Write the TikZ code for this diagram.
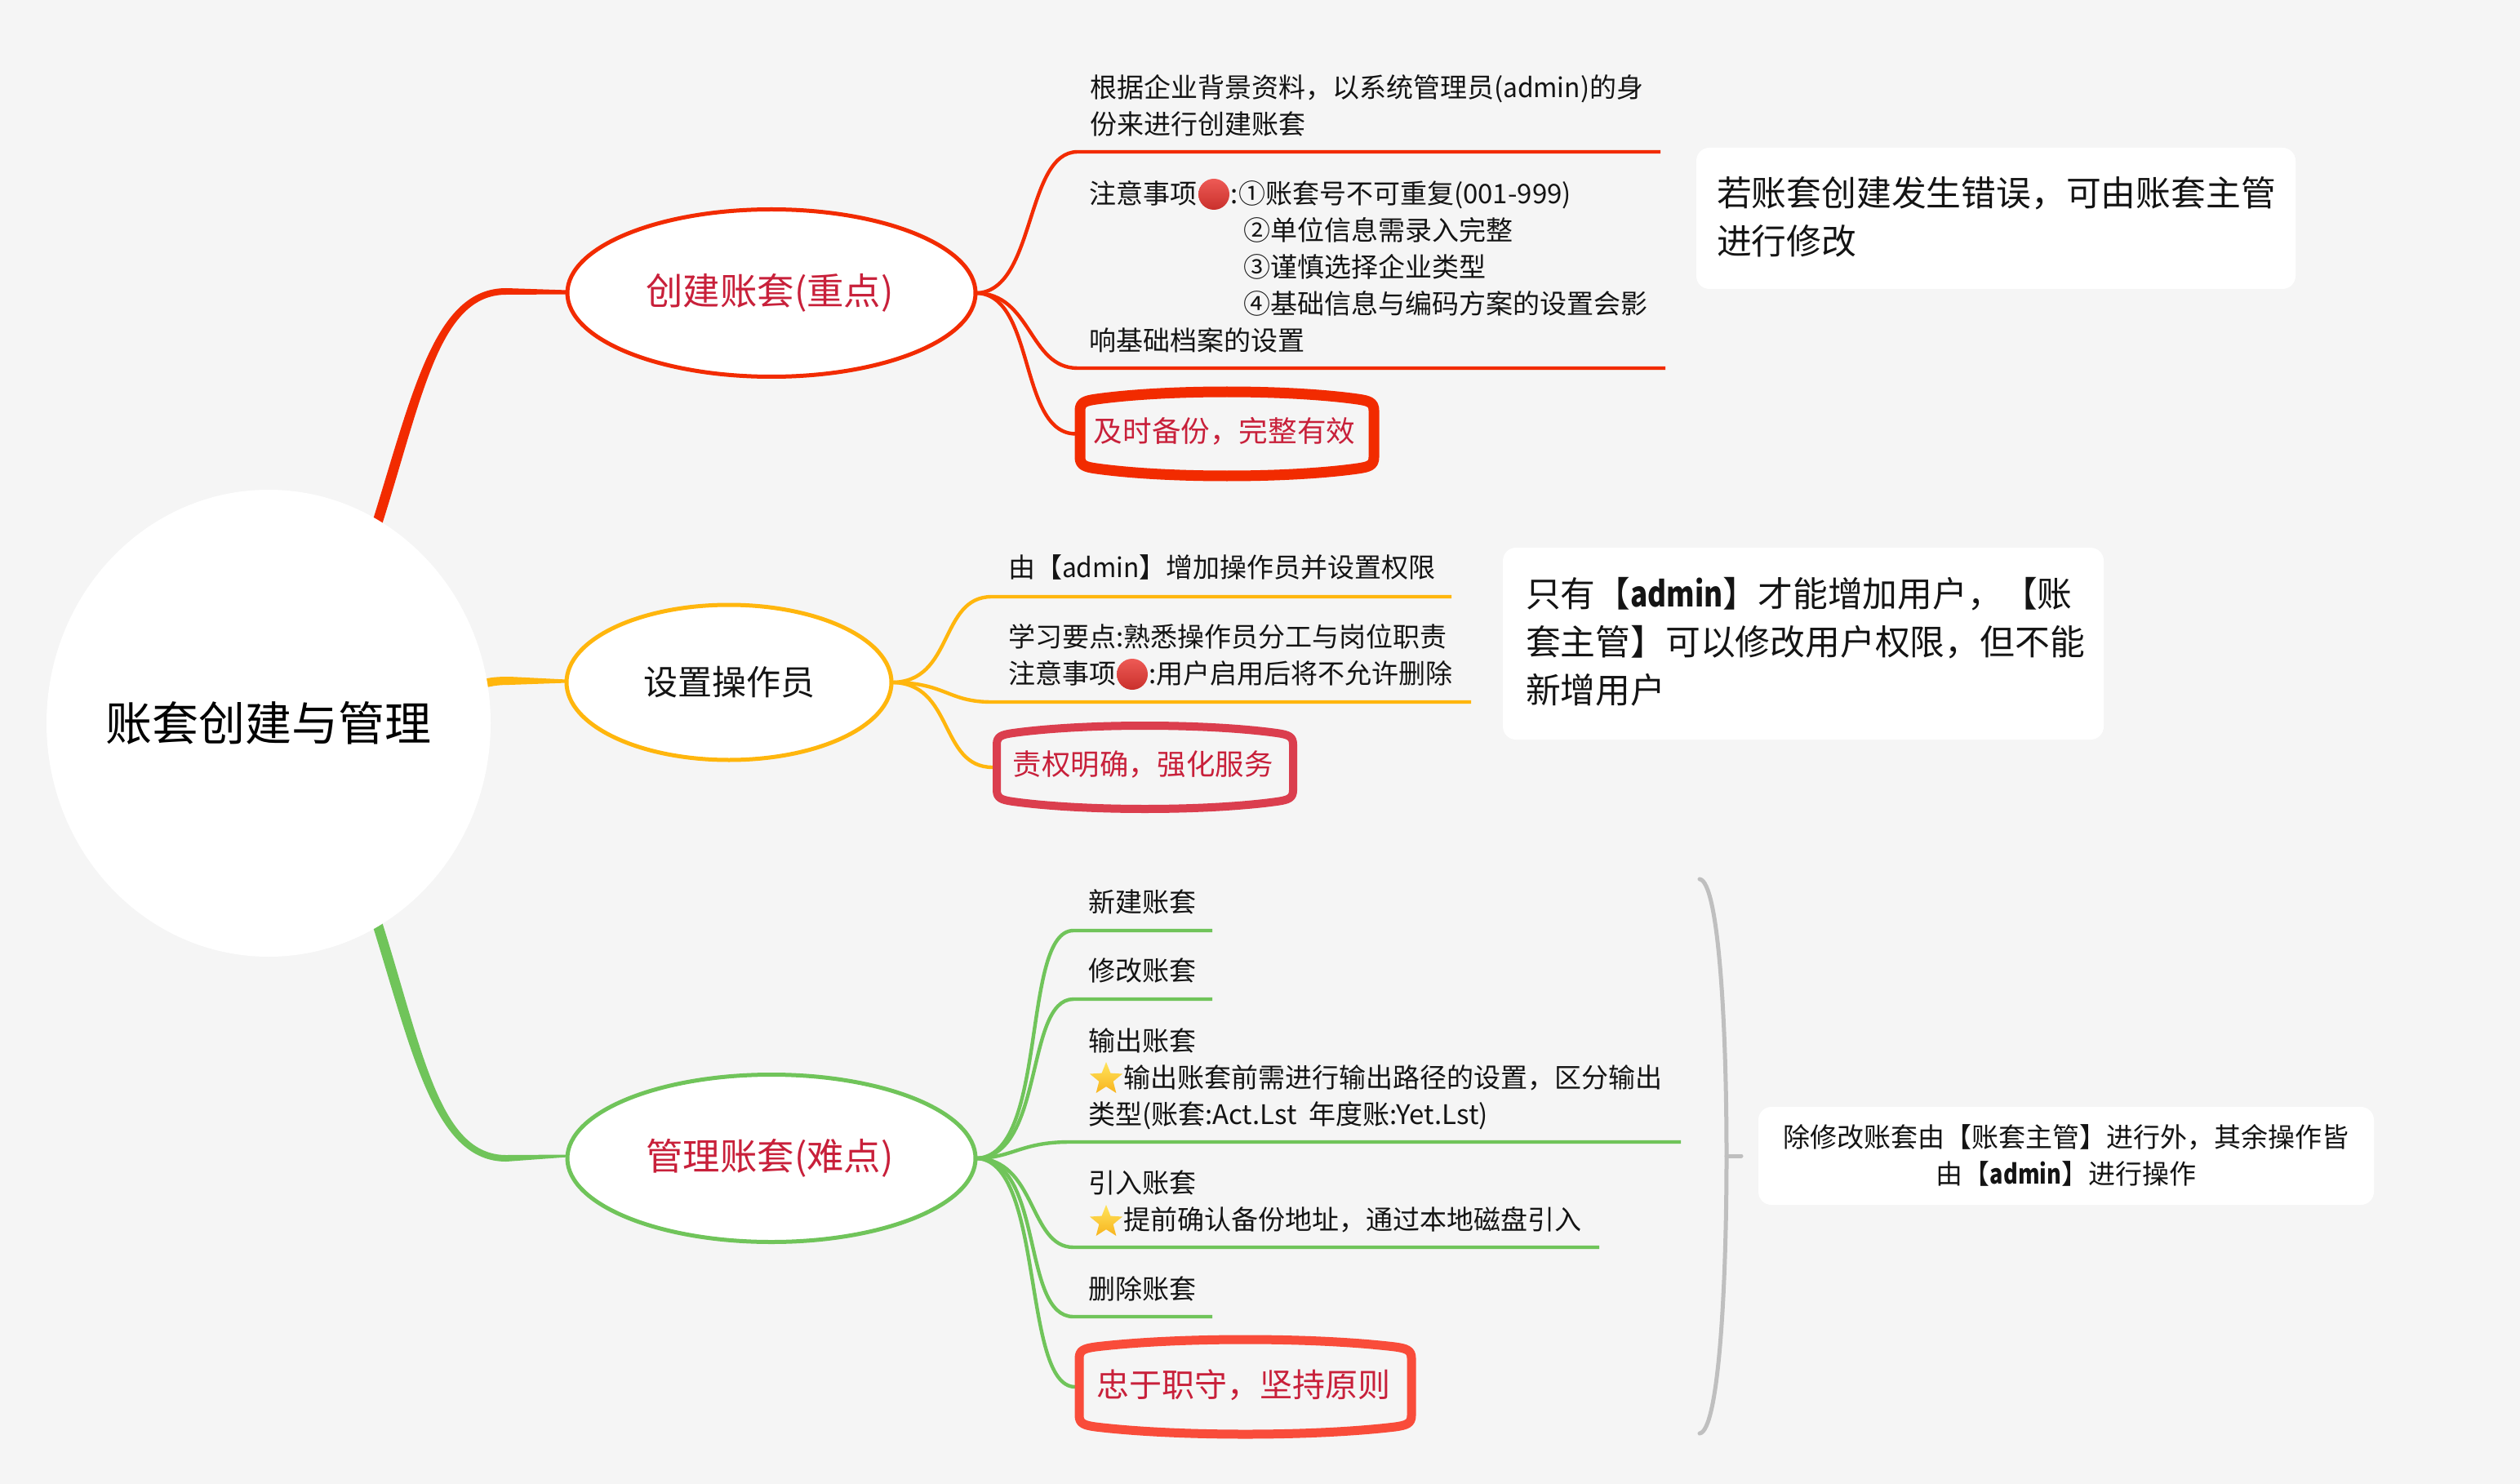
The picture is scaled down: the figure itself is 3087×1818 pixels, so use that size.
\documentclass[tikz,border=0pt]{standalone}
\usepackage{fontspec}
\setmainfont{Noto Sans CJK SC}
\usetikzlibrary{shapes.geometric,backgrounds,calc}
\definecolor{bgc}{HTML}{F5F5F5}
\definecolor{cred}{HTML}{F22B00}
\definecolor{cyel}{HTML}{FFB60D}
\definecolor{cgrn}{HTML}{70C45A}
\definecolor{cgry}{HTML}{BFBFBF}
\definecolor{crim}{HTML}{C8203A}
\definecolor{boxy}{HTML}{DB3E4E}
\definecolor{boxg}{HTML}{F94C3A}
\definecolor{startop}{HTML}{FFE45C}
\definecolor{starbot}{HTML}{F8B41E}
\definecolor{dottop}{HTML}{EE5A55}
\definecolor{dotbot}{HTML}{C9302C}
\newcommand{\fs}[2]{\fontsize{#1pt}{#2pt}\selectfont}
\newcommand{\adm}[1]{\scalebox{#1}[1]{admin}}
\newcommand{\admb}[1]{\scalebox{#1}[1]{\textbf{admin}}}
\tikzset{
  rootnode/.style={ellipse,fill=white,inner sep=0pt,outer sep=0pt,minimum width=272pt,minimum height=286pt,font=\fs{28.5}{34}},
  topicnode/.style={ellipse,fill=white,line width=2.5pt,inner sep=0pt,outer sep=0pt},
  subtext/.style={anchor=west,inner sep=0pt,outer sep=0pt,align=left,font=\fs{16.5}{22.5},text=black!92},
  notebox/.style={fill=white,rounded corners=8pt,inner sep=0pt,outer sep=0pt},
  notebig/.style={anchor=west,inner sep=0pt,outer sep=0pt,align=left,font=\fs{21.4}{29.6},text=black!92},
  branch/.style={line width=2.2pt},
  dotmark/.style={top color=dottop,bottom color=dotbot},
  starmark/.style={star,star points=5,star point ratio=2.3,inner sep=0pt,minimum size=21pt,top color=startop,bottom color=starbot,draw=none}
}
\newcommand{\bulgebox}[8]{%
  \draw[#7,line width=#8pt,line join=round]
    ({#1+5},{#2+30}) .. controls ({#1+5},{#2+20}) and ({#1+11},{#2+18}) .. ({#1+25},{#2+16})
    .. controls ({#1+(#3-#1)*0.3},{#2+4}) and ({#3-(#3-#1)*0.3},{#2+4}) .. ({#3-25},{#2+16})
    .. controls ({#3-11},{#2+18}) and ({#3-5},{#2+20}) .. ({#3-5},{#2+30})
    -- ({#3-5},{#4-30})
    .. controls ({#3-5},{#4-20}) and ({#3-11},{#4-18}) .. ({#3-25},{#4-16})
    .. controls ({#3-(#3-#1)*0.3},{#4-4}) and ({#1+(#3-#1)*0.3},{#4-4}) .. ({#1+25},{#4-16})
    .. controls ({#1+11},{#4-18}) and ({#1+5},{#4-20}) .. ({#1+5},{#4-30}) -- cycle;
  \node[inner sep=0pt,outer sep=0pt,minimum width={(#3-#1)*0.5pt},minimum height={(#4-#2)*0.5pt}] (#5) at ({(#1+#3)/2},{(#2+#4)/2}) {};
}
\begin{document}
\begin{tikzpicture}[x=0.5pt,y=-0.5pt]
\useasboundingbox (0,0) rectangle (3087,1818);
\begin{pgfonlayer}{background}
\fill[bgc] (0,0) rectangle (3087,1818);
\end{pgfonlayer}

% root and topics
\node[rootnode] (root) at (329,886) {\makebox[0pt]{账套创建与管理}};
\node[topicnode,draw=cred,minimum width=250pt,minimum height=102.5pt,text=crim,font=\fs{22.7}{26}] (e1) at (945,359) {\makebox[0pt]{\hspace*{-2pt}创建账套(重点)}};
\node[topicnode,draw=cyel,minimum width=199pt,minimum height=95pt,text=black!92,font=\fs{21}{26}] (e2) at (893,836) {\makebox[0pt]{设置操作员}};
\node[topicnode,draw=cgrn,minimum width=250pt,minimum height=102.5pt,text=crim,font=\fs{22.7}{26}] (e3) at (945,1419) {\makebox[0pt]{\hspace*{-2pt}管理账套(难点)}};

% highlighted boxes
\bulgebox{1318}{473}{1688}{590}{b1}{18}{cred}{6.5}
\node[text=crim,font=\fs{17.8}{18},inner sep=0pt] (b1t) at ([xshift=-1.5pt,yshift=1.5pt]b1.center) {及时备份，完整有效};
\bulgebox{1216}{882}{1589}{998}{b2}{18}{boxy}{5}
\node[text=crim,font=\fs{17.7}{18},inner sep=0pt] (b2t) at ([xshift=-1.2pt,yshift=2pt]b2.center) {责权明确，强化服务};
\bulgebox{1317}{1634}{1734}{1764}{b3}{20}{boxg}{5.5}
\node[text=crim,font=\fs{20}{20},inner sep=0pt] (b3t) at ([xshift=-1pt,yshift=1pt]b3.center) {忠于职守，坚持原则};

% sub texts
\node[subtext] (t1) at (1335,129.5) {根据企业背景资料，以系统管理员(\adm{0.96})的身\\份来进行创建账套};
\node[subtext] (t2) at (1334,327) {注意事项\hspace*{21pt}:①账套号不可重复(001-999)\\\hspace*{94.5pt}②单位信息需录入完整\\\hspace*{94.5pt}③谨慎选择企业类型\\\hspace*{94.5pt}④基础信息与编码方案的设置会影\\响基础档案的设置};
\node[subtext] (t3) at (1235,695) {由【\adm{0.96}】增加操作员并设置权限};
\node[subtext] (t4) at (1235,802.5) {学习要点:熟悉操作员分工与岗位职责\\注意事项\hspace*{20pt}:用户启用后将不允许删除};
\node[subtext] (t5) at (1333,1104.5) {新建账套};
\node[subtext] (t6) at (1333,1189) {修改账套};
\node[subtext] (t7) at (1333,1322) {输出账套\\\hspace*{21.5pt}输出账套前需进行输出路径的设置，区分输出\\类型(账套:Act.Lst\ \ 年度账:Yet.Lst)};
\node[subtext] (t8) at (1333,1472) {引入账套\\\hspace*{21.5pt}提前确认备份地址，通过本地磁盘引入};
\node[subtext] (t9) at (1333,1579) {删除账套};

% emoji marks
\shade[dotmark] (1487,238) circle[radius=19];
\shade[dotmark] (1387,826) circle[radius=19];
\node[starmark] (s1) at (1355,1322) {};
\node[starmark] (s2) at (1355,1497) {};

% notes
\node[notebox,minimum width=367pt,minimum height=86.5pt] (n1) at (2445,267.5) {};
\node[notebig] (n1t) at (2103,266) {若账套创建发生错误，可由账套主管\\进行修改};
\node[notebox,minimum width=368pt,minimum height=117.5pt] (n2) at (2209,788.5) {};
\node[notebig] (n2t) at (1869,786) {只有【\admb{0.82}】才能增加用户，【账\\套主管】可以修改用户权限，但不能\\新增用户};
\node[notebox,minimum width=377pt,minimum height=60pt] (n3) at (2531,1416) {};
\node[inner sep=0pt,align=center,font=\fs{16.5}{22.5},text=black!92] (n3t) at (2531,1415) {除修改账套由【账套主管】进行外，其余操作皆\\由【\admb{0.82}】进行操作};

% brace
\coordinate (bt) at (2082,1077);
\coordinate (bb) at (2082,1756);
\coordinate (bm) at (2115,1416);
\coordinate (bk) at (2133,1416);

% underline coordinates
\coordinate (r1s) at (1320,186); \coordinate (r1e) at (2034,186);
\coordinate (r2s) at (1320,451); \coordinate (r2e) at (2040,451);
\coordinate (y1s) at (1215,731); \coordinate (y1e) at (1778,731);
\coordinate (y2s) at (1215,860); \coordinate (y2e) at (1802,860);
\coordinate (g1s) at (1315,1140); \coordinate (g1e) at (1485,1140);
\coordinate (g2s) at (1315,1224); \coordinate (g2e) at (1485,1224);
\coordinate (g3s) at (1310,1399); \coordinate (g3e) at (2059,1399);
\coordinate (g4s) at (1315,1528); \coordinate (g4e) at (1959,1528);
\coordinate (g5s) at (1315,1613); \coordinate (g5e) at (1485,1613);

\begin{pgfonlayer}{background}
% tapered main connectors
\fill[cred] ([shift={(-6,4)}]root.62) .. controls +(50,-160) and +(-88,0) .. ([shift={(-75,-6)}]e1.west)
  -- ([shift={(0,-3.5)}]e1.west) -- ([shift={(0,1.5)}]e1.west) -- ([shift={(-75,2)}]e1.west)
  .. controls +(-82,0) and +(50,-158) .. ([shift={(6,7)}]root.62) -- cycle;
\fill[cyel] ([shift={(-8,-6)}]root.10) .. controls +(12,-3) and +(-15,0) .. ([shift={(-70,-7)}]e2.west)
  -- ([shift={(0,-3.5)}]e2.west) -- ([shift={(0,0.5)}]e2.west) -- ([shift={(-70,3)}]e2.west)
  .. controls +(-15,0) and +(12,-3) .. ([shift={(-8,5)}]root.10) -- cycle;
\fill[cgrn] ([shift={(-6,-4)}]root.-62) .. controls +(50,160) and +(-88,0) .. ([shift={(-75,4)}]e3.west)
  -- ([shift={(0,-1.5)}]e3.west) -- ([shift={(0,-4.5)}]e3.west) -- ([shift={(-75,-4)}]e3.west)
  .. controls +(-82,0) and +(50,158) .. ([shift={(6,-7)}]root.-62) -- cycle;
% branches
\draw[branch,cred] (e1.east) .. controls +(74,0) and +(-65,0) .. (r1s) -- (r1e);
\draw[branch,cred] (e1.east) .. controls +(69,0) and +(-60,0) .. (r2s) -- (r2e);
\draw[branch,cred] (e1.east) .. controls +(74,0) and +(-71,0) .. (b1.west);
\draw[branch,cyel] (e2.east) .. controls +(77,0) and +(-65,0) .. (y1s) -- (y1e);
\draw[branch,cyel] (e2.east) .. controls +(67,0) and +(-55,0) .. (y2s) -- (y2e);
\draw[branch,cyel] (e2.east) .. controls +(77,0) and +(-66,0) .. (b2.west);
\draw[branch,cgrn] (e3.east) .. controls +(90,0) and +(-65,0) .. (g1s) -- (g1e);
\draw[branch,cgrn] (e3.east) .. controls +(85,0) and +(-60,0) .. (g2s) -- (g2e);
\draw[branch,cgrn] (e3.east) .. controls +(45,0) and +(-60,0) .. (g3s) -- (g3e);
\draw[branch,cgrn] (e3.east) .. controls +(75,0) and +(-55,0) .. (g4s) -- (g4e);
\draw[branch,cgrn] (e3.east) .. controls +(85,0) and +(-65,0) .. (g5s) -- (g5e);
\draw[branch,cgrn] (e3.east) .. controls +(85,0) and +(-66,0) .. (b3.west);
% brace
\draw[cgry,line width=2.5pt,line cap=round] (bt) .. controls +(23,3) and +(0,-166) .. (bm) .. controls +(0,166) and +(23,-3) .. (bb);
\draw[cgry,line width=2.5pt,line cap=round] (bm) -- (bk);
\end{pgfonlayer}
\end{tikzpicture}
\end{document}
